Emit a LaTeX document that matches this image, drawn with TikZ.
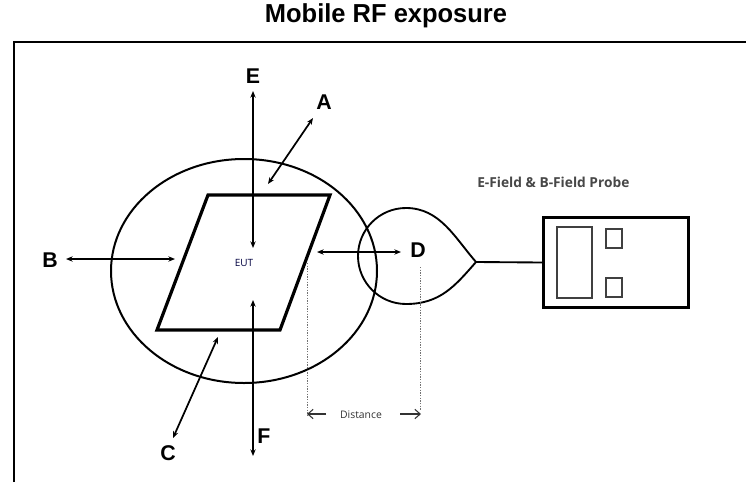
\documentclass[tikz,border=0pt]{standalone}
\usepackage{fontspec}
\setmainfont{Liberation Sans}
\newfontfamily\probefont{Open Sans}
\usetikzlibrary{arrows.meta}
\begin{document}
\begin{tikzpicture}[x=0.75pt,y=-0.75pt,
  lbl/.style={font=\fontsize{16}{16}\selectfont\bfseries, inner sep=0pt},
  darr/.style={line width=1.3pt, {Stealth[length=5pt,width=4pt]}-{Stealth[length=5pt,width=4pt]}},
  frame/.style={line width=1.6pt},
  dots/.style={black!55, line width=0.7pt, dash pattern=on 1pt off 1pt},
  distarr/.style={line width=0.8pt, black!80, -{Straight Barb[length=4pt,width=7pt]}}]
\useasboundingbox (0,0) rectangle (746,482);
% title
\node[font=\fontsize{19.5}{20}\selectfont\bfseries, xscale=0.98] (title) at (386,16) {Mobile RF exposure};
% frame
\draw[frame] (14,482) -- (14,42) -- (746,42);
% big ellipse
\draw[line width=1.5pt] (244,271) ellipse [x radius=133, y radius=112];
% parallelogram (EUT)
\draw[line width=2.4pt, line join=miter] (208,195) -- (330,195) -- (280,330) -- (157,330) -- cycle;
\node[font=\probefont\fontsize{7.5}{7.5}\selectfont, text=black!75!blue, inner sep=0pt] (eut) at (244,263) {EUT};
% labels
\node[lbl] (E) at (253,76) {E};
\node[lbl] (F) at (264,436) {F};
\node[lbl] (B) at (50,260) {B};
\node[lbl] (A) at (324,102) {A};
\node[lbl] (C) at (168,453) {C};
\node[lbl] (D) at (418,250) {D};
% arrow end points
\coordinate (e1) at (253,91);
\coordinate (e2) at (253,248);
\coordinate (f1) at (253,300);
\coordinate (f2) at (253,456);
\coordinate (b1) at (66,259);
\coordinate (b2) at (175,259);
\coordinate (a1) at (268,184);
\coordinate (a2) at (313,118);
\coordinate (c1) at (218,337);
\coordinate (c2) at (173,438);
\coordinate (d1) at (317,252);
\coordinate (d2) at (401,252);
\draw[darr] (e1) -- (e2);
\draw[darr] (f1) -- (f2);
\draw[darr] (b1) -- (b2);
\draw[darr] (a1) -- (a2);
\draw[darr] (c1) -- (c2);
\draw[darr] (d1) -- (d2);
% probe head (teardrop)
\coordinate (tip) at (476,262);
\draw[line width=1.4pt] (tip) .. controls (455,238) and (440,208) .. (406,208)
  .. controls (379.5,208) and (358,229.5) .. (358,256)
  .. controls (358,282.5) and (379.5,304) .. (406,304)
  .. controls (440,304) and (455,286) .. (tip);
% probe box
\node[draw, line width=2.4pt, inner sep=0pt,
      minimum width=108.75pt, minimum height=67.5pt] (probe) at (616,262.5) {};
\draw[line width=1.4pt] (tip) -- (probe.west);
\draw[line width=1pt, black!75] (557,227) rectangle (592,298);
\draw[line width=1pt, black!75] (606,229) rectangle (622,248);
\draw[line width=1pt, black!75] (606,278) rectangle (622,297);
\node[font=\probefont\fontsize{10.3}{10}\selectfont\bfseries, text=black!72, anchor=west, inner sep=0pt] (plabel) at (477,182) {E-Field \& B-Field Probe};
% distance markers
\coordinate (l1) at (307,263);
\coordinate (l2) at (307,416);
\coordinate (r1) at (420,267);
\coordinate (r2) at (420,410);
\draw[dots] (l1) -- (l2);
\draw[dots] (r1) -- (r2);
\node[font=\probefont\fontsize{7.8}{8}\selectfont, text=black!80, inner sep=0pt] (dist) at (361,415) {Distance};
\coordinate (dl) at (307,414);
\coordinate (dls) at (326,414);
\coordinate (dr) at (421,414);
\coordinate (drs) at (400,414);
\draw[distarr] (dls) -- (dl);
\draw[distarr] (drs) -- (dr);
\end{tikzpicture}
\end{document}
